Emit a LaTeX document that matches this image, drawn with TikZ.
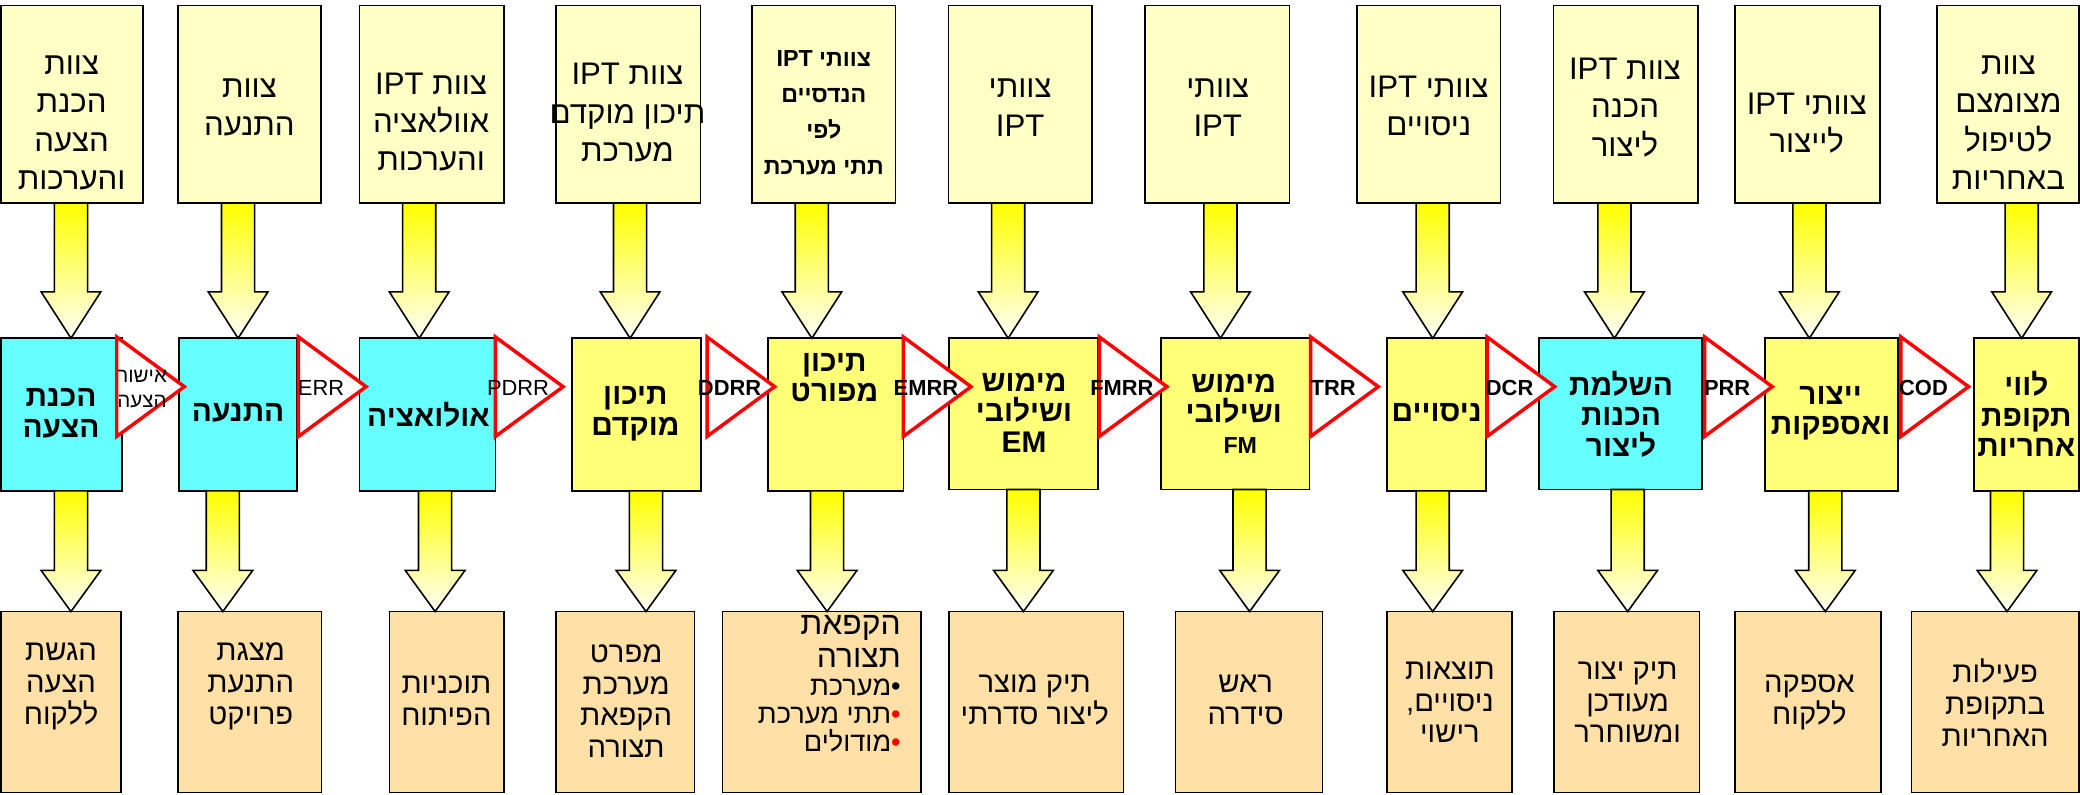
\documentclass[tikz,border=0pt]{standalone}
\usepackage{fontspec}
\usetikzlibrary{calc}
\TeXXeTstate=1
\setmainfont{Liberation Sans}
\newfontfamily\heb[Script=Hebrew]{Liberation Sans}
\definecolor{topfill}{HTML}{FFFFC6}
\definecolor{ylwfill}{HTML}{FFFF78}
\definecolor{cynfill}{HTML}{66FFFF}
\definecolor{botfill}{HTML}{FFE0A6}
\definecolor{arrtop}{HTML}{FFFF00}
\definecolor{arrmid}{HTML}{FFFFA8}
\definecolor{arrbot}{HTML}{FFFFF8}
\newcommand\R[1]{\beginR #1\endR}
\newcommand\bx[6]{\node[#1,anchor=north west,minimum width={(#5)-(#3)},minimum height={(#6)-(#4)}] (#2) at (#3,#4) {};}
\newcommand\blk[4]{\path[blockarrow] let \p1=(#2.south), \p2=(#3.north) in
  ({#1pt-12.5pt},\y1) -- ({#1pt+12.5pt},\y1) -- ({#1pt+12.5pt},{\y2+#4pt}) -- ({#1pt+22.5pt},{\y2+#4pt}) -- ({#1pt},\y2) -- ({#1pt-22.5pt},{\y2+#4pt}) -- ({#1pt-12.5pt},{\y2+#4pt}) -- cycle;}
\newcommand\gate[4]{\draw[gatetri] (#1,254) -- ++(51,37.5) -- ++(-51,37.5) -- cycle;
  \node[gatelbl,#4] (#2) at ({#1+17},292.5) {#3};}
\begin{document}
\begin{tikzpicture}[x=1pt,y=-1pt,
  every node/.style={outer sep=0pt},
  box/.style={draw=black,line width=1.2pt,inner sep=0pt},
  topbox/.style={box,fill=topfill},
  ylwbox/.style={box,fill=ylwfill},
  cynbox/.style={box,fill=cynfill},
  botbox/.style={box,fill=botfill},
  toptxt/.style={font=\heb\fontsize{23.5}{29}\selectfont,align=center,inner sep=0pt},
  toptxtb/.style={font=\heb\bfseries\fontsize{17.5}{27}\selectfont,align=center,inner sep=0pt},
  midtxt/.style={font=\heb\bfseries\fontsize{22.5}{23}\selectfont,align=center,inner sep=0pt},
  bottxt/.style={font=\heb\fontsize{22}{24}\selectfont,align=center,inner sep=0pt},
  blockarrow/.style={draw=black,line width=1.2pt,line join=miter,top color=arrtop,middle color=arrmid,bottom color=arrbot},
  gatetri/.style={draw=red,line width=2.6pt,fill=white,line join=miter},
  gatelbl/.style={font=\bfseries\fontsize{16.5}{17}\selectfont,inner sep=0pt},
  gatereg/.style={font=\fontsize{16.5}{17}\selectfont}
]
\fill[white] (0,0) rectangle (1568,599);
\useasboundingbox (0,0) rectangle (1568,599);

% top row
\bx{topbox}{t1}{0.7}{4}{108}{153}
\bx{topbox}{t2}{134}{4}{242}{153}
\bx{topbox}{t3}{271}{4}{380}{153}
\bx{topbox}{t4}{419}{4}{528}{153}
\bx{topbox}{t5}{567}{4}{675}{153}
\bx{topbox}{t6}{715}{4}{823}{153}
\bx{topbox}{t7}{863}{4}{972}{153}
\bx{topbox}{t8}{1023}{4}{1131}{153}
\bx{topbox}{t9}{1171}{4}{1280}{153}
\bx{topbox}{t10}{1308}{4}{1417}{153}
\bx{topbox}{t11}{1460}{4}{1567.3}{153}

\node[toptxt] (t1l) at (54,92.5) {צוות\\הכנת\\הצעה\\והערכות};
\node[toptxt] (t2l) at (188,81) {צוות\\התנעה};
\node[toptxt] (t3l) at (325,92) {\R{צוות IPT}\\אוולאציה\\והערכות};
\node[toptxt] (t4l) at (473,85) {\R{צוות IPT}\\\R{תיכון מוקדם}\\מערכת};
\node[toptxtb] (t5l) at (621,85) {\R{צוותי IPT}\\הנדסיים\\לפי\\\R{תתי מערכת}};
\node[toptxt] (t6l) at (769,81) {צוותי\\IPT};
\node[toptxt] (t7l) at (918,81) {צוותי\\IPT};
\node[toptxt] (t8l) at (1077,80) {\R{צוותי IPT}\\ניסויים};
\node[toptxt] (t9l) at (1225,81) {\R{צוות IPT}\\הכנה\\ליצור};
\node[toptxt] (t10l) at (1362,93) {\R{צוותי IPT}\\לייצור};
\node[toptxt] (t11l) at (1514,92.5) {צוות\\מצומצם\\לטיפול\\באחריות};

% middle row
\bx{cynbox}{m1}{0.7}{255}{92}{370}
\bx{cynbox}{m2}{135}{255}{224}{370}
\bx{cynbox}{m3}{271}{255}{373.5}{370}
\bx{ylwbox}{m4}{431}{255}{528.5}{370}
\bx{ylwbox}{m5}{579}{255}{681}{370}
\bx{ylwbox}{m6}{715.5}{255}{827.5}{369}
\bx{ylwbox}{m7}{875}{255}{987}{369}
\bx{ylwbox}{m8}{1045.5}{255}{1120}{370}
\bx{cynbox}{m9}{1160}{255}{1283}{369}
\bx{ylwbox}{m10}{1330.6}{255}{1431}{370}
\bx{ylwbox}{m11}{1488}{255}{1567.3}{370}

% bottom row
\bx{botbox}{b1}{0.7}{461}{91}{597.5}
\bx{botbox}{b2}{134}{461}{242.5}{597.5}
\bx{botbox}{b3}{293.5}{461}{380}{597.5}
\bx{botbox}{b4}{419}{461}{523.5}{597.5}
\bx{botbox}{b5}{544.5}{461}{694.5}{597.5}
\bx{botbox}{b6}{715.5}{461}{847}{597.5}
\bx{botbox}{b7}{886}{461}{997}{597.5}
\bx{botbox}{b8}{1045.5}{461}{1140}{597.5}
\bx{botbox}{b9}{1171.5}{461}{1281}{597.5}
\bx{botbox}{b10}{1308}{461}{1418}{597.5}
\bx{botbox}{b11}{1441}{461}{1567.3}{597.5}

% block arrows top -> middle
\blk{53.5}{t1}{m1}{35}
\blk{179.5}{t2}{m2}{35}
\blk{316}{t3}{m3}{35}
\blk{475}{t4}{m4}{35}
\blk{612}{t5}{m5}{35}
\blk{760}{t6}{m6}{35}
\blk{920}{t7}{m7}{35}
\blk{1080}{t8}{m8}{35}
\blk{1217}{t9}{m9}{35}
\blk{1364}{t10}{m10}{35}
\blk{1524}{t11}{m11}{35}
% block arrows middle -> bottom
\blk{53.5}{m1}{b1}{31}
\blk{168}{m2}{b2}{31}
\blk{328}{m3}{b3}{31}
\blk{487}{m4}{b4}{31}
\blk{623.5}{m5}{b5}{31}
\blk{771.5}{m6}{b6}{31}
\blk{942}{m7}{b7}{31}
\blk{1080}{m8}{b8}{31}
\blk{1227}{m9}{b9}{31}
\blk{1376}{m10}{b10}{31}
\blk{1513}{m11}{b11}{31}

% gates
\gate{88}{g1}{}{}
\node[font=\heb\fontsize{15.5}{19}\selectfont,align=left,inner sep=0pt,anchor=west] (g1l) at (88.5,293) {אישור\\הצעה};
\gate{225}{g2}{ERR}{gatereg}
\gate{373.5}{g3}{PDRR}{gatereg}
\gate{533}{g4}{DDRR}{}
\gate{681}{g5}{EMRR}{}
\gate{828.7}{g6}{FMRR}{}
\gate{988}{g7}{TRR}{}
\gate{1121}{g8}{DCR}{}
\gate{1285}{g9}{PRR}{}
\gate{1433}{g10}{COD}{}

% middle texts
\node[midtxt] (m1l) at (46,311.5) {הכנת\\הצעה};
\node[midtxt] (m2l) at (179.5,311) {התנעה};
\node[midtxt] (m3l) at (323,313) {אולואציה};
\node[midtxt] (m4l) at (479,312) {תיכון\\מוקדם};
\node[midtxt] (m5l) at (629,284.5) {תיכון\\מפורט};
\node[midtxt] (m6l) at (772,311) {מימוש\\ושילובי\\EM};
\node[midtxt] (m7l) at (930,312) {מימוש\\ושילובי\\\hspace*{10pt}{\fontsize{17.5}{23}\selectfont FM}};
\node[midtxt] (m8l) at (1083,311) {ניסויים};
\node[midtxt] (m9l) at (1222,312) {השלמת\\הכנות\\ליצור};
\node[midtxt] (m10l) at (1380,311.5) {ייצור\\ואספקות};
\node[midtxt] (m11l) at (1527.5,312) {לווי\\תקופת\\אחריות};

% bottom texts
\node[bottxt] (b1l) at (46,517.5) {הגשת\\הצעה\\ללקוח};
\node[bottxt] (b2l) at (189,517.5) {מצגת\\התנעת\\פרויקט};
\node[bottxt] (b3l) at (336.5,528) {תוכניות\\הפיתוח};
\node[bottxt] (b4l) at (472,528.5) {מפרט\\מערכת\\הקפאת\\תצורה};
\node[bottxt,font=\heb\fontsize{24}{25}\selectfont,align=right,anchor=east] (b5l) at (679,483.5) {הקפאת\\תצורה};
\node[bottxt,font=\heb\fontsize{20.5}{21}\selectfont,align=right,anchor=east] (b5m) at (679,539.5) {\R{מערכת}{\color{black}•}\\\R{תתי מערכת}{\color{red}•}\\\R{מודולים}{\color{red}•}};
\node[bottxt] (b6l) at (780,527.5) {\R{תיק מוצר}\\\R{ליצור סדרתי}};
\node[bottxt] (b7l) at (939,527.5) {ראש\\סידרה};
\node[bottxt] (b8l) at (1093,529.5) {תוצאות\\\R{ניסויים{,}}\\רישוי};
\node[bottxt] (b9l) at (1227,529.5) {\R{תיק יצור}\\מעודכן\\ומשוחרר};
\node[bottxt] (b10l) at (1364,529.5) {אספקה\\ללקוח};
\node[bottxt] (b11l) at (1504,529.5) {פעילות\\בתקופת\\האחריות};
\end{tikzpicture}
\end{document}
